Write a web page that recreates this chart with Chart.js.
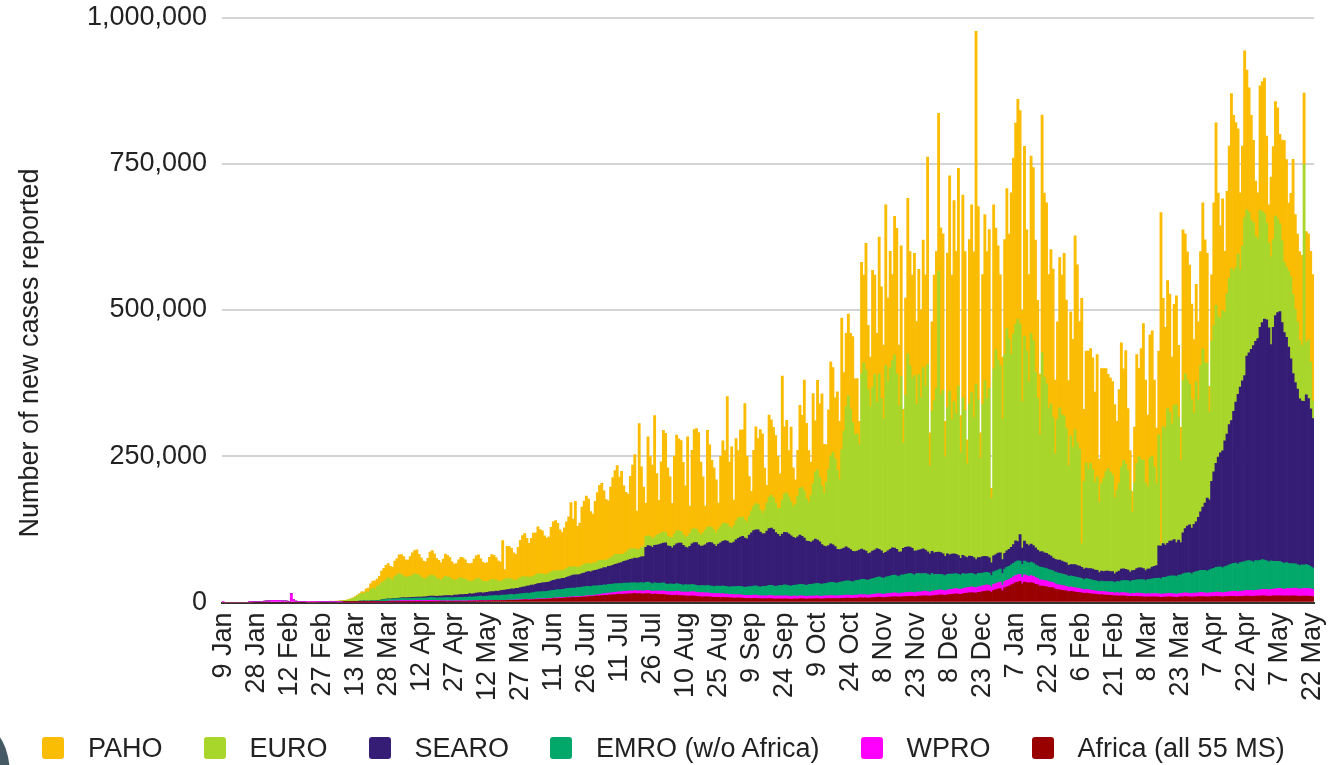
<!DOCTYPE html>
<html><head><meta charset="utf-8">
<script src="https://cdn.jsdelivr.net/npm/chart.js@4.4.1/dist/chart.umd.min.js"></script>
<style>
html,body{margin:0;padding:0;background:#fff;}
#wrap{position:relative;width:1332px;height:765px;overflow:hidden;background:#fff;}
#c{position:absolute;left:0;top:0;}
#legend{position:absolute;left:42px;top:735px;height:26px;display:flex;align-items:center;gap:41px;font:27px "Liberation Sans",Arial,sans-serif;color:#222;white-space:nowrap;}
.it{display:flex;align-items:center;}
.sw{width:22px;height:22px;border-radius:3px;margin-right:24px;flex:none;}
#knob{position:absolute;left:-42px;top:727px;width:52px;height:96px;border-radius:50%;background:#455a64;}
#warn{position:absolute;left:300px;top:40px;color:red;font:16px sans-serif;}
</style></head>
<body><div id="wrap"><canvas id="c" width="1332" height="765"></canvas><div id="legend"></div><div id="knob"></div><div id="warn"></div></div>
<script>
// ---- tick labels shown on the x axis (every 15th category) ----
const tickLabels = ['9 Jan','28 Jan','12 Feb','27 Feb','13 Mar','28 Mar','12 Apr','27 Apr','12 May','27 May','11 Jun','26 Jun','11 Jul','26 Jul','10 Aug','25 Aug','9 Sep','24 Sep','9 Oct','24 Oct','8 Nov','23 Nov','8 Dec','23 Dec','7 Jan','22 Jan','6 Feb','21 Feb','8 Mar','23 Mar','7 Apr','22 Apr','7 May','22 May'];
const yTicks = [0, 250, 500, 750, 1000]; // thousands
const seriesNames = ['Africa (all 55 MS)','WPRO','EMRO (w/o Africa)','SEARO','EURO','PAHO'];
const seriesColors = ['#990000','#FF00FF','#02A76A','#351C75','#A9D62B','#FBBC04'];
const legendOrder = [5,4,3,2,1,0];

// ---- categories: reported dates ----
const firstDates = ['9 Jan','14 Jan','15 Jan','16 Jan','17 Jan','18 Jan','19 Jan','20 Jan','21 Jan','22 Jan','23 Jan','24 Jan','25 Jan','26 Jan','27 Jan'];
const MONTHS = ['Jan','Feb','Mar','Apr','May','Jun','Jul','Aug','Sep','Oct','Nov','Dec'];
const categories = firstDates.slice();
for (let t = Date.UTC(2020,0,28); t <= Date.UTC(2021,4,22); t += 86400000) {
  const d = new Date(t); categories.push(d.getUTCDate() + ' ' + MONTHS[d.getUTCMonth()]);
}

// ---- daily new cases, thousands ----
const africa = [
0,0,0,0,0,0,0,0,0,0,0,0,0,0,0,
0,0,0,0,0,0,0, 0,0,0,0,0,0,0, 0,0,0,0,0,0,0, 0,0,0,0,0,0,0, 0,0,0,0,0,0,0,
0,0,0,0,0,0.01,0.01, 0.02,0.02,0.05,0.05,0.07,0.1,0.1, 0.15,0.2,0.2,0.3,0.3,0.35,0.4,
0.4,0.5,0.6,0.6,0.8,0.8,0.9, 0.8,0.9,1.0,1.0,1.1,1.2,1.0, 1.1,1.2,1.3,1.0,1.4,1.3,1.2,
1.1,1.3,1.5,1.4,1.3,1.2,1.4, 1.4,1.5,1.6,1.7,1.6,1.5,1.8, 1.8,1.9,2.0,2.1,2.2,2.0,2.3,
2.2,2.4,2.5,2.6,2.8,2.7,2.6, 2.7,2.8,3.0,3.1,3.2,3.0,3.2, 3.3,3.4,3.5,3.6,3.8,3.7,3.9,
3.9,4.0,4.2,4.4,4.5,4.3,4.6, 4.7,4.9,5.2,5.5,5.4,5.6,5.8, 5.9,6.2,6.5,6.8,6.9,7.1,7.3,
7.5,7.8,8.1,8.4,8.7,8.6,8.9, 9.0,9.3,9.6,9.9,10.2,10.0,10.5, 10.8,11.2,11.6,12.0,12.4,12.2,12.8,
13.0,13.3,13.6,14.0,14.2,14.0,14.5, 14.6,14.8,15.0,15.2,15.5,15.0,15.3, 15.0,14.5,15.3,15.1,14.8,14.0,14.4,
14.2,13.8,13.5,13.9,13.2,12.8,12.6, 12.4,12.1,12.5,12.0,11.8,11.5,11.2, 11.0,10.8,11.2,10.9,10.5,10.2,9.9,
9.8,9.5,9.9,9.6,9.3,9.0,8.8, 8.7,8.5,8.9,8.6,8.4,8.0,7.8, 7.7,7.5,7.9,7.6,7.4,7.0,6.9,
7.0,6.8,7.2,7.0,6.8,6.5,6.4, 6.5,6.3,6.7,6.5,6.3,6.0,6.1, 6.2,6.0,6.4,6.2,6.0,5.8,6.0,
6.1,6.0,6.5,6.3,6.2,5.9,6.2, 6.3,6.2,6.6,6.5,6.4,6.1,6.4, 6.5,6.6,6.9,6.8,6.7,6.5,6.8,
7.0,7.2,7.5,7.4,7.3,7.0,7.4, 7.6,7.8,8.1,8.0,7.9,7.6,8.0, 8.4,8.6,8.9,9.1,8.8,8.5,9.0,
9.2,9.4,9.7,9.9,9.6,9.2,9.8, 10.0,10.2,10.5,10.7,10.4,10.0,10.6, 10.8,11.0,11.4,11.6,11.2,10.8,11.6,
12.0,12.4,12.8,13.0,12.6,12.2,13.0, 13.5,14.0,14.4,14.8,14.3,13.8,15.0, 15.5,16.0,16.5,17.0,16.6,16.0,17.2,
17.8,18.5,19.2,20.0,19.5,18.0,21.0, 22.0,23.0,24.0,20.0,25.0,27.0,28.0, 30.0,32.0,34.0,35.0,36.0,32.0,35.0,
34.0,33.0,34.0,33.0,31.0,30.0,28.0, 28.0,27.5,27.0,26.0,25.5,25.0,23.0, 22.0,21.5,21.0,20.5,20.0,18.5,19.0,
18.5,18.0,17.5,17.0,16.5,15.5,16.0, 15.5,15.0,14.6,14.2,13.8,13.0,13.5, 13.0,12.8,12.5,12.2,11.8,11.2,11.6,
11.0,11.4,11.2,11.0,10.6,10.0,10.4, 10.2,10.5,10.3,10.0,9.8,9.3,9.7, 9.6,9.8,9.7,9.5,9.3,9.0,9.4,
9.2,9.5,9.6,9.4,9.2,8.8,9.3, 9.5,9.8,10.0,9.9,9.6,9.2,9.6, 9.8,10.0,10.3,10.1,9.9,9.5,9.8,
10.0,10.2,10.5,10.3,10.1,9.7,10.0, 10.2,10.4,10.6,10.5,10.3,10.0,10.4, 10.6,10.8,11.0,10.9,10.7,10.4,10.8,
10.9,11.1,11.3,11.2,11.0,10.6,11.0, 11.2,11.4,11.6,11.5,11.2,10.8,11.2, 11.0,11.2,11.4,11.3,11.0,10.6,11.0,
10.8,11.0,10.9,10.6,10.2];

const wpro = [
0.04,0,0,0,0,0,0,0,0,0,0,0,0.7,1.0,1.5,
1.7,2.0,1.7,2.1,2.6,2.8,2.9, 3.2,3.9,3.7,3.2,3.4,2.7,3.0, 2.5,2.0,15.2,5.1,2.6,2.0,2.1,
1.9,1.8,0.9,0.5,0.9,0.6,0.8, 1.0,1.1,1.3,1.1,1.3,1.2,1.1, 0.9,0.8,0.7,0.6,0.6,0.5,0.4,
0.4,0.5,0.5,0.6,0.6,0.7,0.8, 0.9,0.8,0.9,1.0,1.1,1.2,1.0, 1.2,1.3,1.6,1.5,1.7,1.6,1.8,
1.8,1.9,2.0,2.1,2.2,2.0,2.3, 2.0,2.2,1.9,2.5,2.3,2.0,1.9, 2.1,2.3,2.4,2.1,2.0,1.9,1.7,
1.6,1.5,1.4,1.3,1.2,1.1,1.0, 1.0,0.9,0.8,0.9,0.8,0.7,0.8, 0.7,0.8,0.7,0.6,0.7,0.6,0.5,
0.6,0.7,0.6,0.5,0.6,0.5,0.6, 0.6,0.5,0.6,0.5,0.5,0.4,0.5, 0.5,0.6,0.6,0.7,0.6,0.5,0.6,
0.7,0.8,0.9,0.8,0.7,0.8,0.9, 0.9,1.0,1.1,1.0,1.2,1.1,1.0, 1.1,1.2,1.3,1.2,1.1,1.4,1.3,
1.3,1.4,1.5,1.4,1.6,1.5,1.4, 1.8,2.0,2.3,2.6,2.8,3.0,3.2, 3.3,3.5,3.8,3.6,4.0,4.2,4.4,
4.5,4.6,4.8,4.5,4.9,5.0,4.7, 4.8,5.0,5.2,5.5,5.1,4.9,5.3, 5.5,5.8,6.0,6.2,5.9,5.7,6.1,
6.3,6.6,6.9,7.0,6.5,6.2,6.8, 7.0,7.2,7.5,7.3,6.8,6.6,7.1, 7.2,7.0,6.8,6.6,6.4,6.2,6.5,
6.5,6.3,6.2,6.0,5.8,5.6,6.0, 5.9,5.7,5.5,5.6,5.4,5.2,5.5, 5.4,5.2,5.3,5.5,5.1,4.9,5.2,
5.1,5.0,5.2,5.3,5.0,4.8,5.1, 5.0,4.9,5.1,5.0,4.8,4.6,4.9, 4.8,4.7,4.9,5.0,4.7,4.5,4.8,
4.7,4.6,4.8,4.9,4.6,4.5,4.8, 4.8,4.9,5.1,5.0,4.8,4.7,5.0, 5.0,5.1,5.3,5.2,5.0,4.9,5.2,
5.1,5.2,5.4,5.3,5.1,5.0,5.3, 5.4,5.6,5.9,6.0,5.7,5.4,5.8, 6.0,6.2,6.5,6.6,6.3,6.0,6.4,
6.6,6.8,7.0,7.2,6.9,6.6,7.0, 7.2,7.4,7.6,7.8,7.5,7.2,7.6, 7.8,8.0,8.3,8.5,8.2,7.9,8.4,
8.5,8.7,9.0,9.2,8.8,8.5,9.0, 9.2,9.4,9.6,9.8,9.4,9.0,9.5, 9.6,9.8,10.0,10.2,9.8,8.5,10.0,
10.2,10.5,10.8,9.5,10.6,11.0,11.2, 11.5,11.8,12.2,12.5,12.0,11.0,12.4, 12.0,11.8,12.2,11.9,11.5,11.0,10.8,
10.5,10.2,10.0,9.8,9.5,9.0,8.8, 8.6,8.4,8.2,8.0,7.8,7.4,7.6, 7.4,7.2,7.0,6.8,6.6,6.2,6.5,
6.4,6.2,6.0,5.9,5.8,5.5,5.7, 5.6,5.5,5.4,5.3,5.4,5.0,5.3, 5.2,5.4,5.6,5.5,5.3,5.0,5.2,
5.3,5.5,5.6,5.5,5.4,5.1,5.4, 5.4,5.6,5.7,5.6,5.5,5.2,5.5, 5.6,5.8,6.0,5.9,5.8,5.5,5.9,
6.0,6.2,6.4,6.3,6.2,5.9,6.3, 6.5,6.7,6.9,6.8,6.6,6.4,6.8, 7.0,7.2,7.5,7.4,7.2,6.9,7.4,
7.6,7.8,8.2,8.4,8.6,8.2,8.8, 9.0,9.2,9.6,9.8,10.0,9.6,10.2, 10.4,10.6,11.0,11.2,11.4,11.0,11.6,
11.8,12.0,12.4,12.6,12.2,11.8,12.4, 12.6,12.8,13.0,13.2,12.8,12.4,13.0, 13.2,13.4,13.0,12.6,12.2];

const emro = [
0,0,0,0,0,0,0,0,0,0,0,0,0,0,0,
0,0,0,0,0,0,0, 0,0,0,0,0,0,0, 0,0,0,0,0,0,0,
0,0,0,0,0,0,0.1, 0.1,0.1,0.2,0.2,0.3,0.4,0.5, 0.6,0.8,0.7,1.1,1.2,0.8,0.9,
1.0,1.1,1.0,1.3,1.4,1.5,1.6, 1.5,1.3,1.2,1.4,1.2,1.2,1.5, 1.8,2.3,2.6,3.0,3.2,3.0,3.2,
3.5,3.4,3.6,3.6,3.7,3.5,3.6, 3.7,3.9,4.1,4.0,3.8,4.2,4.5, 4.4,4.5,4.6,4.8,4.9,4.6,5.0,
5.0,5.1,5.3,5.4,5.5,5.2,5.6, 5.6,5.8,6.0,5.9,6.2,6.0,6.4, 6.5,6.7,6.9,7.1,7.3,6.9,7.5,
7.5,7.8,8.0,8.1,8.4,8.0,8.5, 8.6,8.9,9.1,9.3,9.5,9.1,9.7, 9.9,10.2,10.5,10.4,10.8,11.0,11.4,
11.6,11.9,12.2,12.0,12.4,12.1,12.6, 12.8,13.1,13.4,13.6,13.9,13.5,14.1, 14.4,14.6,14.9,15.2,15.0,14.6,15.4,
15.4,15.6,15.9,16.2,16.0,15.6,16.4, 15.8,15.5,15.2,14.8,15.1,14.6,15.0, 14.6,14.8,15.0,14.6,14.3,14.0,14.4,
14.2,14.0,13.8,14.1,13.6,13.3,13.7, 14.2,13.8,14.0,14.5,13.6,13.2,13.9, 13.5,13.2,13.8,13.4,13.0,12.5,13.2,
12.8,12.5,13.0,12.7,12.4,12.0,12.6, 12.3,12.0,12.5,12.2,12.0,11.6,12.1, 12.0,12.2,12.8,12.5,12.3,12.0,12.6,
12.8,13.0,13.4,13.2,13.0,12.6,13.3, 13.6,14.0,14.3,14.5,14.2,13.8,14.5, 14.8,15.2,15.5,15.8,15.5,15.0,15.9,
16.2,16.8,17.3,17.5,17.2,16.6,17.5, 17.8,18.2,18.6,18.4,18.0,17.5,18.5, 19.0,19.4,19.8,19.6,19.2,18.8,19.7,
20.0,20.5,21.0,21.3,20.8,20.2,21.2, 21.5,22.0,22.5,22.8,22.3,21.8,22.8, 23.2,23.8,24.3,24.6,24.0,23.5,24.6,
25.0,25.5,26.0,26.3,25.8,25.2,26.4, 27.0,27.5,28.2,28.6,28.0,27.2,28.8, 29.0,29.5,30.2,30.5,29.8,29.0,30.6,
30.8,31.2,31.6,31.8,31.2,30.4,31.8, 31.5,31.0,30.6,30.2,29.8,29.0,30.4, 28.0,27.5,27.2,26.8,26.4,25.8,26.9,
26.5,26.0,25.6,25.3,24.9,24.4,25.5, 24.0,23.6,23.2,23.0,22.6,22.2,23.0, 22.5,22.2,21.8,21.5,21.0,19.5,21.6,
21.8,22.0,22.2,20.0,21.6,22.4,22.6, 22.8,23.0,23.4,23.6,23.0,22.0,23.4, 23.0,22.6,22.8,22.4,22.0,21.5,21.8,
21.6,21.2,21.0,20.6,20.4,20.0,20.2, 20.0,19.8,19.6,19.4,19.0,18.6,19.2, 19.0,18.8,18.6,18.4,18.0,17.5,18.2,
18.0,17.8,17.6,17.4,17.2,16.8,17.5, 17.2,17.6,18.0,18.4,18.6,18.0,19.0, 19.6,20.2,20.8,21.2,21.4,20.8,22.0,
22.4,22.8,23.2,23.6,23.8,23.0,24.2, 24.4,25.0,25.6,26.2,27.0,26.4,28.0, 28.4,29.0,29.6,30.2,30.6,30.0,31.4,
32.0,33.0,33.8,34.4,35.0,34.0,35.6, 36.4,37.0,37.6,38.2,38.6,37.8,39.0, 40.0,41.0,42.0,43.0,43.5,42.5,44.0,
45.0,46.0,47.0,48.0,48.5,47.5,49.0, 49.5,50.0,50.5,51.0,50.0,49.0,50.5, 50.0,50.5,51.0,50.0,49.0,48.0,48.5,
47.5,47.0,46.5,46.0,45.0,44.0,44.5, 43.0,42.5,42.0,41.5,41.0,40.0,40.5, 40.0,40.5,39.5,38.0,37.0];

const searo = [
0,0,0,0,0,0,0,0,0,0,0,0,0,0,0,
0,0,0,0,0,0,0, 0,0,0,0,0,0,0, 0,0,0,0,0,0,0, 0,0,0,0,0,0,0, 0,0,0,0,0,0,0,
0,0,0,0,0,0,0.01, 0.01,0.02,0.02,0.03,0.05,0.05,0.1, 0.1,0.1,0.15,0.2,0.2,0.25,0.3,
0.4,0.5,0.5,0.6,0.7,0.6,0.8, 0.8,0.9,1.0,1.1,1.3,1.2,1.5, 1.5,1.4,1.6,1.7,1.8,1.9,2.2,
2.0,2.3,2.5,2.6,2.8,2.7,3.0, 3.0,3.2,3.5,3.6,3.4,3.8,4.1, 4.2,4.3,4.6,4.5,4.8,5.3,5.6,
5.0,5.5,5.8,6.1,6.2,6.0,6.4, 6.5,6.8,7.2,7.0,7.5,7.8,8.0, 8.2,8.6,9.0,9.3,9.6,9.8,10.1,
10,10.5,11,11.5,12,12.5,13, 12.8,13.5,14.0,14.5,15.2,15.5,15.0, 15.5,16.2,17.0,17.5,18.2,18.5,19.0,
18.5,19.5,20.2,21,22,22.5,21.5, 22,23,23.5,24.5,25,25.5,26, 26.5,27,28,28.5,29.5,30,31,
31.5,32,33,34,35,36,37, 38,39,40,41,42,42,43, 44,45,60,62,63,62,64,
65,66,67,68,70,66,64, 62,66,68,70,71,68,64, 63,66,69,72,73,70,67,
68,70,72,74,74,72,68, 72,74,76,78,78,76,74, 76,80,82,84,86,84,82,
88,92,95,96,97,94,90, 90,94,97,98,96,92,88, 84,88,90,90,88,86,82,
80,82,84,82,80,76,74, 72,74,76,74,72,68,64, 63,64,66,64,62,58,56,
56,57,58,56,54,52,50, 50,51,52,50,49,46,45, 47,48,49,47,46,43,42,
44,46,47,46,45,42,40, 45,46,46,45,44,41,39, 40,41,42,40,38,36,38,
37,38,38,37,36,33,35, 33,34,34,33,32,29,31, 30,28,30,29,28,26,27,
27,28,28,27,26,22,27, 28,29,28,24,27,28,29, 30,32,36,33,45,28,34,
31,30,31,30,29,27,26, 27,26,26,25,24,22,22, 22,23,22,21,21,19,19,
20,21,20,20,19,18,18, 18,19,19,18,18,16,17, 17,18,18,17,17,15,16,
18,20,20,19,18,16,17, 17,19,20,20,19,17,18, 18,20,21,22,55,56,58,
55,57,60,60,62,58,60, 55,70,76,80,82,78,82, 85,92,100,108,115,125,120,
150,165,178,188,195,200,215, 225,240,245,260,275,290,300, 310,318,350,355,362,370,375,
380,398,405,412,412,400,370, 400,420,425,427,410,395,385, 370,350,325,310,300,285,280,
280,290,285,270,255];

const euro = [
0,0,0,0,0,0,0,0,0,0,0,0,0,0,0,
0,0,0,0,0,0,0, 0,0,0,0,0,0,0, 0,0,0,0,0,0,0,
0,0,0,0,0,0,0.1, 0.1,0.2,0.3,0.3,0.4,0.4,0.6, 0.5,0.6,0.8,1.0,1.4,1.8,2.2,
3.0,4.0,5.5,7.0,9.0,11,13, 12,16,15,19,22,20,25, 26,29,31,33,36,34,32,
38,40,42,40,37,35,36, 36,38,40,39,37,34,31, 30,33,35,36,34,31,29,
27,30,33,32,31,28,25, 26,28,29,27,26,23,22, 21,23,24,25,22,20,19,
18,19,21,20,19,17,16, 17,18,19,18,17,15,14, 16,17,18,17,16,15,14,
15,16,17,16,15,14,14, 15,16,16,15,15,14,14, 14,15,16,15,14,14,13,
13,14,15,14,14,13,13, 13,14,15,14,13,12,12, 14,15,17,16,15,14,13,
15,17,18,17,16,15,14, 16,17,18,17,16,15,14, 17,18,19,19,18,16,15,
18,20,22,21,20,18,17, 20,22,25,24,23,21,19, 22,25,27,27,26,24,22,
25,28,31,30,29,27,25, 28,32,35,34,33,31,28, 32,37,42,45,43,38,35,
40,48,54,56,55,50,44, 48,58,66,68,64,58,52, 58,70,80,84,80,72,66,
80,98,115,120,110,100,90, 110,130,150,158,150,135,120, 170,200,240,260,240,220,200,
200,180,300,320,310,280,250, 280,300,250,300,260,230,320, 290,310,320,330,300,250,300,
180,260,330,310,290,300,250, 300,260,310,280,320,150,240, 260,280,480,270,280,170,250,
280,230,260,240,290,180,270, 250,160,260,280,240,300,270, 170,260,300,270,290,110,320,
350,330,320,240,340,380,360, 330,360,370,380,360,250,350, 330,280,360,350,300,260,200,
340,300,290,250,260,240,180, 240,260,250,250,230,170,220, 200,230,210,200,40,150,180,
170,180,170,150,160,120,150, 160,170,175,170,165,130,140, 150,175,185,180,170,140,100,
150,180,190,185,185,150,140, 190,190,170,140,190,4,200, 200,230,220,200,230,235,210,
140,260,265,250,240,220,190, 240,200,250,270,240,230,150, 240,250,270,240,230,240,220,
240,250,260,240,230,240,200, 230,270,250,240,220,210,180, 170,200,190,180,165,145,150,
150,170,160,150,140,120,120, 130,140,135,125,115,100,95, 405,90,100,80,30];

const paho = [
0,0,0,0,0,0,0,0,0,0,0,0,0,0,0,
0,0,0,0,0,0,0, 0,0,0,0,0,0,0, 0,0,0,0,0,0,0, 0,0,0,0,0,0,0,
0,0,0,0,0,0,0.02, 0.1,0.1,0.1,0.2,0.3,0.4,0.5, 0.4,0.6,0.8,1.2,1.5,2.0,2.6,
3.5,5,7,10,12,14,12, 15,20,22,25,24,22,22, 26,28,32,34,33,30,28,
34,38,40,42,36,33,30, 30,32,40,42,38,34,32, 30,33,38,36,34,30,28,
28,32,35,36,33,30,29, 32,36,40,40,36,33,31, 33,40,42,42,38,35,33,
68,17,55,55,52,47,44, 54,64,70,74,66,58,66, 74,72,80,76,74,66,62,
62,76,84,86,80,70,64, 72,80,86,110,82,112,70, 75,100,108,116,110,90,84,
105,118,128,132,118,104,100, 121,135,143,152,132,142,116, 102,96,124,143,161,66,215,
138,102,57,169,137,126,208, 105,58,121,174,169,117,104, 58,133,164,157,155,124,88,
170,47,135,169,172,171,125, 96,41,166,140,115,107,92, 45,120,141,124,218,111,140,
44,141,115,149,149,199,113, 68,34,95,131,113,137,136, 72,30,140,129,120,116,89,
59,212,114,124,79,128,67, 42,78,142,123,190,129,89, 57,154,87,153,126,158,84,
64,102,161,145,104,134,99, 225,100,125,140,130,147,95, 95,40,190,150,216,110,85,
200,170,118,234,191,126,274, 142,199,147,237,249,104,223, 58,166,266,195,177,209,142,
180,150,218,190,355,57,152, 215,234,270,285,267,61,264, 368,247,344,278,372,64,346,
271,41,281,321,283,603,330, 43,222,284,251,271,17,280, 208,195,155,106,196,239,179,
276,301,344,376,365,157,325, 207,183,303,296,226,167,104, 406,315,309,229,264,254,126,
167,257,239,278,219,146,212, 185,332,304,218,420,123,191, 202,196,191,154,209,74,196,
187,176,161,161,160,159,118, 160,212,157,194,106,68,35, 95,186,151,190,234,176,123,
210,214,148,95,143,566,219, 172,219,202,114,172,187,123, 57,258,239,219,204,163,126,
166,134,195,250,210,188,44, 113,210,312,211,158,191,104, 175,226,299,266,248,214,132,
171,285,239,213,180,141,94, 79,213,222,232,149,65,136, 159,196,190,153,172,208,184,
116,143,231,162,150,152,154, 122,189,182,189,216];

const seriesData = [africa, wpro, emro, searo, euro, paho];
const bad = seriesData.map((a,i)=>a.length!==categories.length ? seriesNames[i]+':'+a.length : null).filter(Boolean);
if (bad.length) document.getElementById('warn').textContent = 'len ' + categories.length + ' ' + bad.join(' ');

const FONT = '"Liberation Sans", Arial, Helvetica, sans-serif';

const yTitlePlugin = {
  id: 'yTitle',
  afterDraw(chart) {
    const ctx = chart.ctx;
    ctx.save();
    ctx.translate(31, 353);
    ctx.rotate(-Math.PI / 2);
    ctx.font = '27px ' + FONT;
    ctx.fillStyle = '#222';
    ctx.textAlign = 'center';
    ctx.textBaseline = 'middle';
    ctx.fillText('Number of new cases reported', 0, 0);
    ctx.restore();
  }
};

new Chart(document.getElementById('c'), {
  type: 'bar',
  data: {
    labels: categories,
    datasets: seriesData.map((d, i) => ({
      label: seriesNames[i],
      data: d,
      backgroundColor: seriesColors[i],
      borderWidth: 0,
      barPercentage: 1,
      categoryPercentage: 1,
      stack: 's'
    }))
  },
  options: {
    responsive: false,
    animation: false,
    devicePixelRatio: 1,
    layout: { padding: { left: 0, right: 18, top: 17.5, bottom: 0 } },
    plugins: { legend: { display: false }, tooltip: { enabled: false } },
    scales: {
      x: {
        stacked: true,
        grid: { display: false, drawTicks: false },
        border: { display: true, color: '#333333', width: 2 },
        ticks: {
          autoSkip: false,
          minRotation: 90, maxRotation: 90,
          padding: 10,
          color: '#222',
          font: { family: FONT, size: 27 },
          callback: (v, idx) => (idx % 15 === 0 ? tickLabels[idx / 15] : '')
        },
        afterFit: s => { s.height = 162.5; s.paddingLeft = 0; s.paddingRight = 0; }
      },
      y: {
        stacked: true,
        min: 0, max: 1000,
        afterBuildTicks: s => { s.ticks = yTicks.map(v => ({ value: v })); },
        grid: { color: '#d3d3d3', lineWidth: 2, drawTicks: false },
        border: { display: false },
        ticks: {
          padding: 15,
          color: '#222',
          font: { family: FONT, size: 27 },
          callback: v => (v * 1000).toLocaleString('en-US')
        },
        afterFit: s => { s.width = 222; s.paddingTop = 0; s.paddingBottom = 0; }
      }
    }
  },
  plugins: [yTitlePlugin]
});

// legend (HTML)
const lg = document.getElementById('legend');
legendOrder.forEach(i => {
  const it = document.createElement('div'); it.className = 'it';
  const sw = document.createElement('div'); sw.className = 'sw'; sw.style.background = seriesColors[i];
  const tx = document.createElement('span'); tx.textContent = seriesNames[i];
  it.appendChild(sw); it.appendChild(tx); lg.appendChild(it);
});
</script>
</body></html>
